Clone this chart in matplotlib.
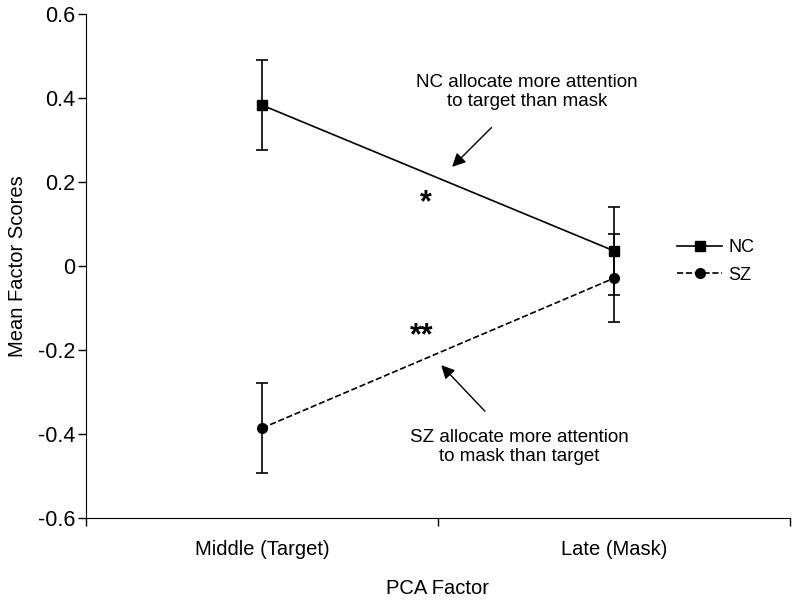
import matplotlib.pyplot as plt
import numpy as np

plt.rcParams['font.family'] = ['Liberation Sans', 'DejaVu Sans']

categories = ['Middle (Target)', 'Late (Mask)']
nc_means = [0.383, 0.036]
nc_err = [0.107, 0.105]
sz_means = [-0.386, -0.029]
sz_err = [0.107, 0.105]

fig = plt.figure(figsize=(8, 6.08), dpi=100)
ax = fig.add_axes([0.1075, 0.148, 0.88, 0.829])

x = np.arange(len(categories)) + 0.5
# error bars first, then the mean lines (these carry the legend)
ax.errorbar(x, nc_means, yerr=nc_err, fmt='none', ecolor='black',
            capsize=4, elinewidth=1.2, capthick=1.2)
ax.errorbar(x, sz_means, yerr=sz_err, fmt='none', ecolor='black',
            capsize=4, elinewidth=1.2, capthick=1.2)
ax.plot(x, nc_means, color='black', lw=1.2, marker='s', ms=7, label='NC')
ax.plot(x, sz_means, color='black', lw=1.2, ls='--', marker='o', ms=7, label='SZ')

ax.set_xlim(0, 2)
ax.set_ylim(-0.6, 0.6)
ax.set_yticks([-0.6, -0.4, -0.2, 0, 0.2, 0.4, 0.6])
ax.set_yticklabels(['-0.6', '-0.4', '-0.2', '0', '0.2', '0.4', '0.6'], fontsize=15.5)
ax.set_xticks([0, 1, 2])
ax.set_xticklabels([])
ax.set_xticks(x, minor=True)
ax.set_xticklabels(categories, minor=True, fontsize=14.5)
ax.tick_params(axis='x', which='minor', length=0, pad=16)
ax.tick_params(axis='both', which='major', length=6, width=1, direction='out')
ax.tick_params(axis='y', pad=1.5)
for s in ['top', 'right']:
    ax.spines[s].set_visible(False)
ax.set_xlabel('PCA Factor', fontsize=14.5, labelpad=14)
ax.set_ylabel('Mean Factor Scores', fontsize=14.5, labelpad=8)

ax.annotate('NC allocate more attention\nto target than mask', xy=(1.040, 0.236),
            xytext=(1.253, 0.414), ha='center', va='center', fontsize=13.5,
            linespacing=1.15,
            arrowprops=dict(arrowstyle='-|>', color='black', lw=1, mutation_scale=20,
                            shrinkA=15, shrinkB=0))
ax.annotate('SZ allocate more attention\nto mask than target', xy=(1.009, -0.236),
            xytext=(1.230, -0.431), ha='center', va='center', fontsize=13.5,
            linespacing=1.15,
            arrowprops=dict(arrowstyle='-|>', color='black', lw=1, mutation_scale=20,
                            shrinkA=15, shrinkB=0))
ax.text(0.966, 0.15, '*', fontsize=22, fontweight='bold', ha='center', va='center')
ax.text(0.955, -0.168, '**', fontsize=22, fontweight='bold', ha='center', va='center')

ax.legend(loc='upper left', bbox_to_anchor=(0.8395, 0.5536), frameon=False, fontsize=13,
          handlelength=2.5, labelspacing=0.6, handletextpad=0.35,
          borderpad=0, borderaxespad=0)

fig.savefig('out.png')
